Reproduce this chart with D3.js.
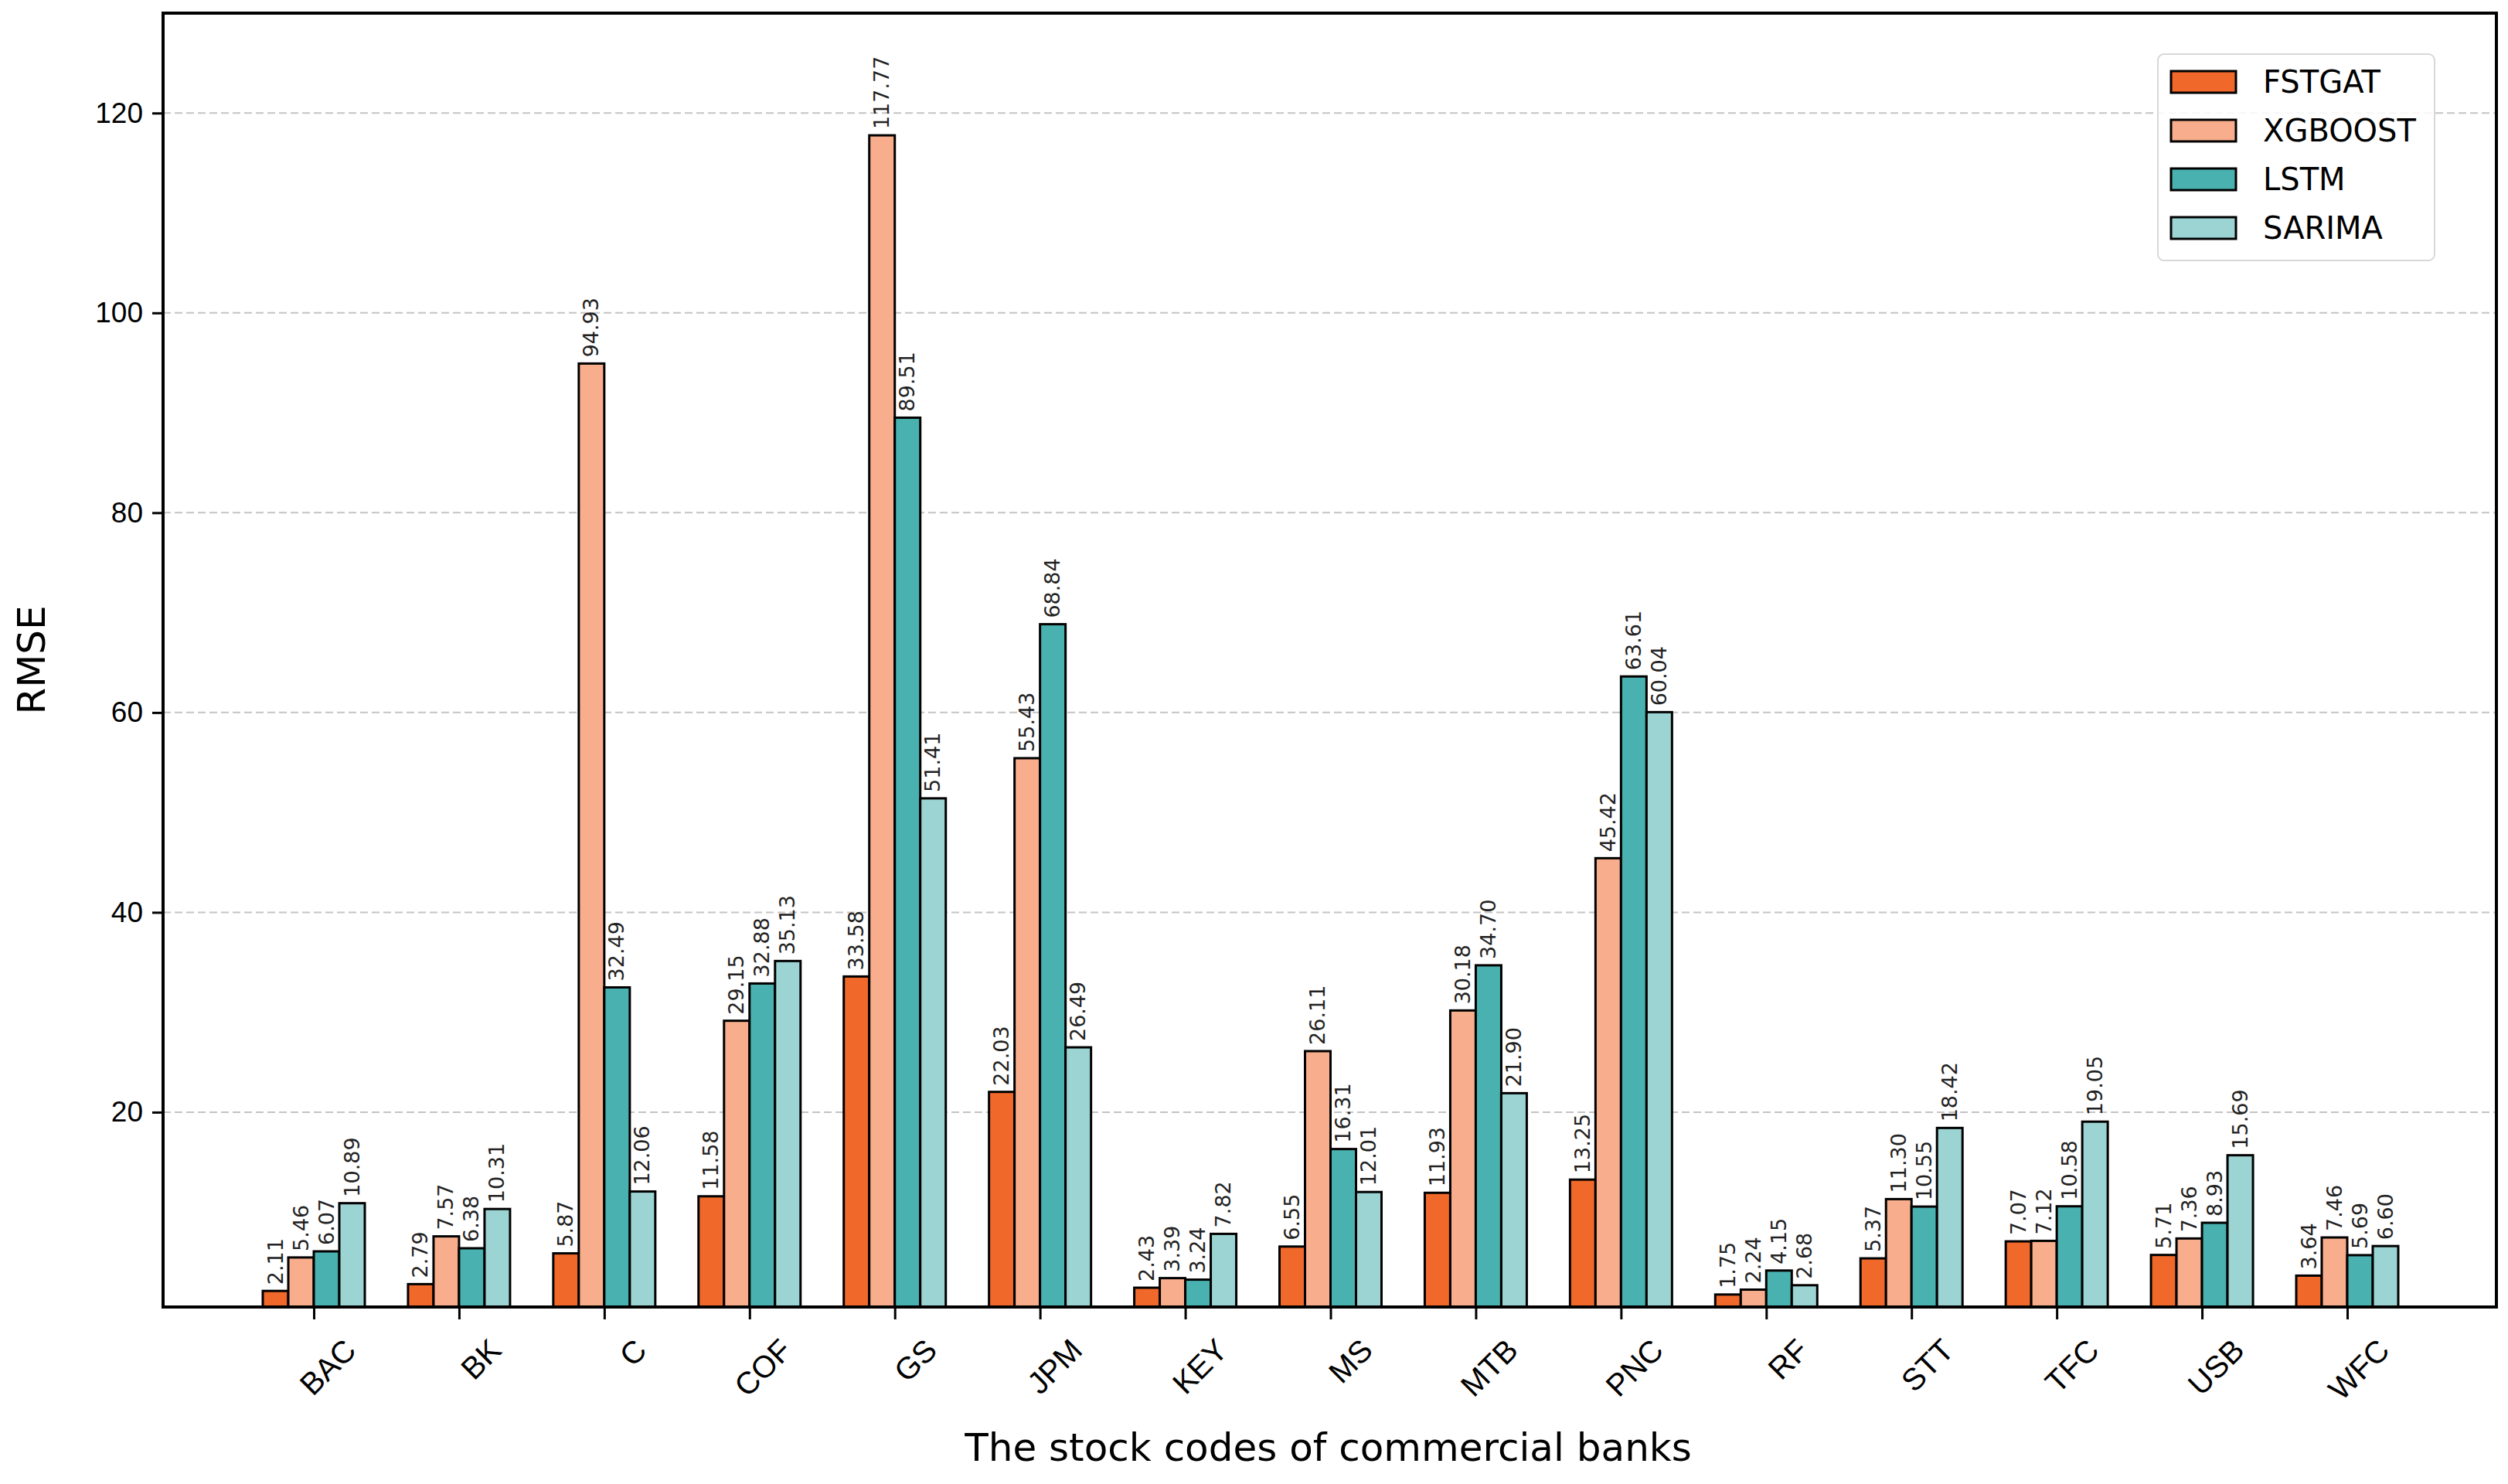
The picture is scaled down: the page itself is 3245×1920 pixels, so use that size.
<!DOCTYPE html>
<html lang="en">
<head>
<meta charset="UTF-8">
<title>RMSE by bank</title>
<script src="https://d3js.org/d3.v7.min.js"></script>
<style>
  body { margin: 0; background: #fff; }
  svg { font-family: "DejaVu Sans", sans-serif; }
</style>
</head>
<body>
<svg id="chart" width="3245" height="1920"></svg>
<script>
const banks = ["BAC","BK","C","COF","GS","JPM","KEY","MS","MTB","PNC","RF","STT","TFC","USB","WFC"];
const models = ["FSTGAT","XGBOOST","LSTM","SARIMA"];
const colors = ["#f0692a","#f8ae8c","#49b1af","#9cd4d3"];
const fstgat  = [2.11,2.79,5.87,11.58,33.58,22.03,2.43,6.55,11.93,13.25,1.75,5.37,7.07,5.71,3.64];
const xgboost = [5.46,7.57,94.93,29.15,117.77,55.43,3.39,26.11,30.18,45.42,2.24,11.30,7.12,7.36,7.46];
const lstm    = [6.07,6.38,32.49,32.88,89.51,68.84,3.24,16.31,34.70,63.61,4.15,10.55,10.58,8.93,5.69];
const sarima  = [10.89,10.31,12.06,35.13,51.41,26.49,7.82,12.01,21.90,60.04,2.68,18.42,19.05,15.69,6.60];
const yTicks = [20,40,60,80,100,120];

const series = [fstgat, xgboost, lstm, sarima];
const L = 211, R = 3230, T = 17, B = 1691;
const svg = d3.select("#chart");

const x = d3.scalePoint().domain(banks).range([406, 3037]);
const xs = d3.scaleBand().domain(models).range([-66, 66]);
const y = d3.scaleLinear().domain([0.5, 130]).range([B, T]);

// grid
svg.append("g").selectAll("line").data(yTicks).join("line")
  .attr("x1", L).attr("x2", R).attr("y1", d => y(d)).attr("y2", d => y(d))
  .attr("stroke", "#c4c4c4").attr("stroke-width", 2).attr("stroke-dasharray", "10,5");

// bars
models.forEach((m, i) => {
  const g = svg.append("g");
  g.selectAll("rect").data(series[i]).join("rect")
    .attr("x", (d, j) => x(banks[j]) + xs(m))
    .attr("width", xs.bandwidth())
    .attr("y", d => y(d))
    .attr("height", d => B - y(d))
    .attr("fill", colors[i]).attr("stroke", "#000").attr("stroke-width", 3);
  g.selectAll("text").data(series[i]).join("text")
    .attr("transform", (d, j) => `translate(${x(banks[j]) + xs(m) + xs.bandwidth() / 2 + 9},${y(d) - 8}) rotate(-90)`)
    .attr("font-size", 27).attr("fill", "#222")
    .text(d => d.toFixed(2));
});

// axes
const xAxis = svg.append("g").attr("transform", `translate(0,${B})`)
  .call(d3.axisBottom(x).tickSize(16).tickPadding(10));
xAxis.select(".domain").remove();
xAxis.selectAll("line").attr("stroke-width", 3);
xAxis.selectAll("text").attr("font-size", 40).attr("fill", "#000")
  .attr("text-anchor", "end")
  .attr("transform", "translate(18,20) rotate(-45)");

const yAxis = svg.append("g").attr("transform", `translate(${L},0)`)
  .call(d3.axisLeft(y).tickValues(yTicks).tickSize(14).tickPadding(12));
yAxis.select(".domain").remove();
yAxis.selectAll("line").attr("stroke-width", 3);
yAxis.selectAll("text").attr("font-size", 37).attr("fill", "#000");

svg.append("rect").attr("x", L).attr("y", T).attr("width", R - L).attr("height", B - T)
  .attr("fill", "none").attr("stroke", "#000").attr("stroke-width", 4);

svg.append("text").attr("x", (L + R) / 2 - 2).attr("y", 1890)
  .attr("text-anchor", "middle").attr("font-size", 50).text("The stock codes of commercial banks");
svg.append("text").attr("transform", `translate(58,${(T + B) / 2}) rotate(-90)`)
  .attr("text-anchor", "middle").attr("font-size", 50).text("RMSE");

// legend
const lg = svg.append("g").attr("transform", "translate(2792,70)");
lg.append("rect").attr("width", 358).attr("height", 267).attr("rx", 8)
  .attr("fill", "#fff").attr("fill-opacity", 0.85).attr("stroke", "#d8d8d8").attr("stroke-width", 2);
models.forEach((m, i) => {
  const cy = 36 + i * 63;
  lg.append("rect").attr("x", 17).attr("y", cy - 14).attr("width", 84).attr("height", 28)
    .attr("fill", colors[i]).attr("stroke", "#000").attr("stroke-width", 3);
  lg.append("text").attr("x", 136).attr("y", cy + 14).attr("font-size", 40).text(m);
});
</script>
</body>
</html>
